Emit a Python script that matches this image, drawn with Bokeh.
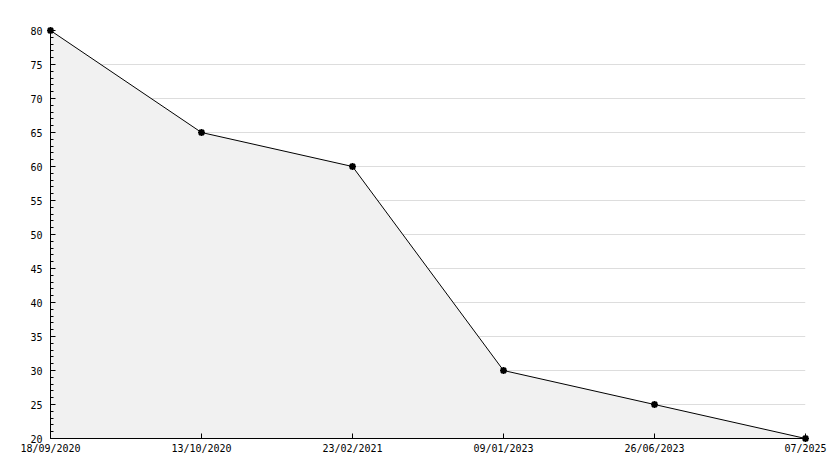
from bokeh.plotting import figure
from bokeh.models import Range1d, FixedTicker, SingleIntervalTicker, ColumnDataSource
from bokeh.embed import file_html
from bokeh.resources import INLINE

dates = ["18/09/2020", "13/10/2020", "23/02/2021", "09/01/2023", "26/06/2023", "07/2025"]
values = [80, 65, 60, 30, 25, 20]
y_ticks = [20, 25, 30, 35, 40, 45, 50, 55, 60, 65, 70, 75, 80]

xs = list(range(len(dates)))
src = ColumnDataSource(dict(x=xs, y=values, base=[min(y_ticks)] * len(xs)))

p = figure(width=830, height=460, output_backend="svg", toolbar_location=None,
           x_range=Range1d(0, len(dates) - 1), y_range=Range1d(min(y_ticks), max(y_ticks)),
           min_border_left=50, min_border_right=25, min_border_top=30, min_border_bottom=22)
p.outline_line_color = None
p.background_fill_color = "white"

p.varea(x="x", y1="base", y2="y", source=src, fill_color="#f1f1f1")
p.line(x="x", y="y", source=src, line_color="black", line_width=1)
p.scatter(x="x", y="y", source=src, marker="asterisk", size=7, line_color="black",
          line_width=2, level="overlay")

font = "DejaVu Sans Mono"
p.xaxis.ticker = FixedTicker(ticks=xs)
p.xaxis.major_label_overrides = {i: d for i, d in enumerate(dates)}
p.yaxis.ticker = SingleIntervalTicker(interval=5, num_minor_ticks=5)
for ax in (p.xaxis, p.yaxis):
    ax.axis_line_color = "black"
    ax.major_tick_line_color = "black"
    ax.major_tick_in = 5
    ax.major_tick_out = 0
    ax.major_label_text_font = font
    ax.major_label_text_font_size = "10px"
    ax.major_label_text_color = "black"
p.yaxis.minor_tick_in = 3
p.yaxis.minor_tick_out = 0
p.yaxis.minor_tick_line_color = "black"
p.xaxis.minor_tick_line_color = None
p.yaxis.major_label_standoff = 8
p.xaxis.major_label_standoff = 4

p.xgrid.grid_line_color = None
p.ygrid.grid_line_color = "#dddddd"

open("out.html", "w").write(file_html(p, INLINE))
